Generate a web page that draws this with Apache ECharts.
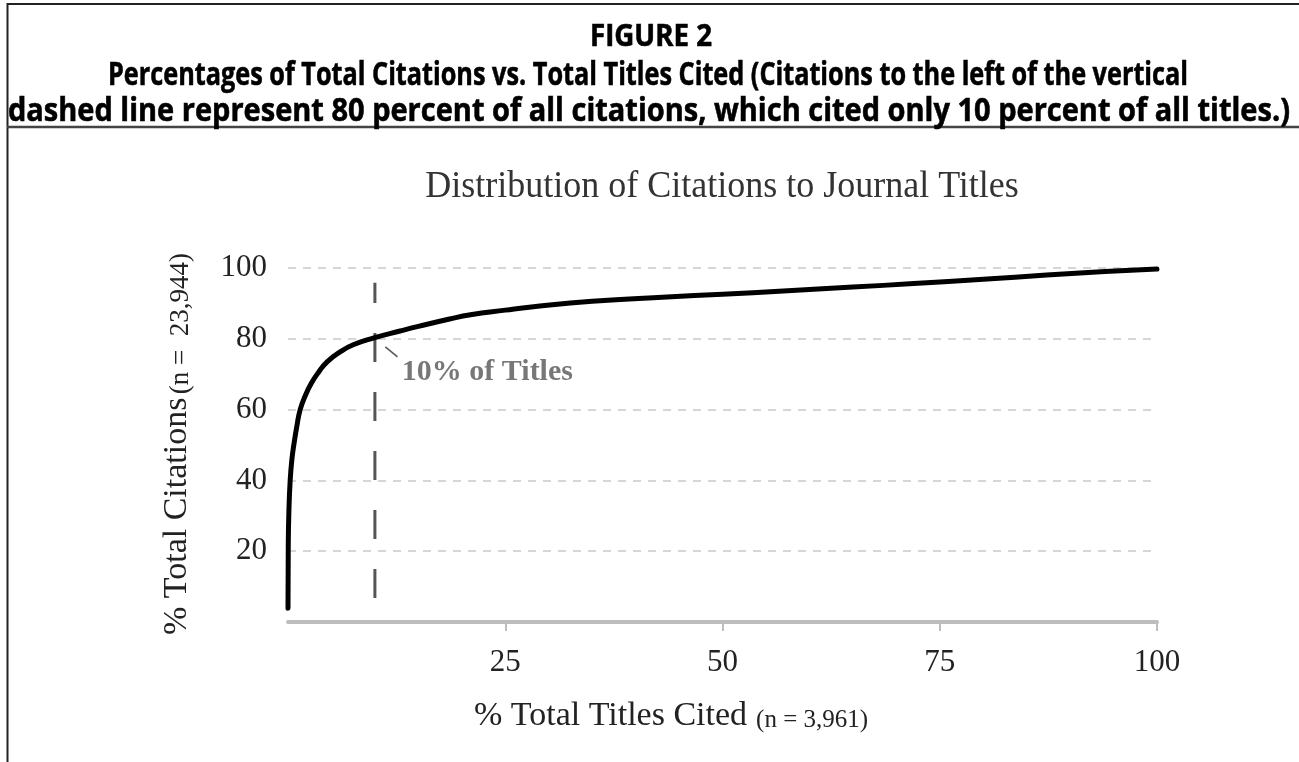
<!DOCTYPE html>
<html>
<head>
<meta charset="utf-8">
<script src="https://cdn.jsdelivr.net/npm/echarts@6/dist/echarts.min.js"></script>
<style>
html,body{margin:0;padding:0;background:#fff;}
#chart{width:1299px;height:762px;}
</style>
</head>
<body>
<div id="chart"></div>
<script>
// ---- data ----
const titlesPct = [0, 0.03, 0.1, 0.25, 0.45, 0.7, 1.0, 1.4, 2.0, 2.7, 3.5, 4.5, 6.0, 7.5, 9.8, 12.9, 15, 18.6, 21, 25, 28, 35, 43.6, 50, 57, 65, 72, 80, 87.3, 94, 100];
const citationsPct = [3.9, 21, 31, 40, 46, 50.5, 55, 60, 64, 67.5, 70.5, 73.5, 76.3, 78.3, 80.2, 82.2, 83.5, 85.6, 86.8, 88.1, 89.0, 90.6, 91.8, 92.6, 93.5, 94.6, 95.6, 96.8, 98, 99, 99.7];
const cutoffLine = [[10, 6.8], [10, 95.8]];
const leaderLine = [[11.2, 77.7], [12.6, 74.9]];
const annotationPoint = [[13.1, 70.6]];
const annotationText = '10% of Titles';
const xTicks = [25, 50, 75, 100];
const yTicks = [20, 40, 60, 80, 100];
const headerLines = ['FIGURE 2',
  'Percentages of Total Citations vs. Total Titles Cited (Citations to the left of the vertical',
  'dashed line represent 80 percent of all citations, which cited only 10 percent of all titles.)'];
const chartTitle = 'Distribution of Citations to Journal Titles';
const xName = ['% Total Titles Cited', '(n = 3,961)'];
const yName = ['% Total Citations', '(n =  23,944)'];

const curve = titlesPct.map((x, i) => [x, citationsPct[i]]);

const serif = '"Liberation Serif", "Times New Roman", serif';
const headFont = '"Open Sans", "Noto Sans", sans-serif';

const ctx = document.createElement('canvas').getContext('2d');
function fitScale(text, font, target) {
  ctx.font = font;
  return target / ctx.measureText(text).width;
}
const headSpecs = [
  {font: 'bold 30px ' + headFont, w: 122, x: 651, y: 37},
  {font: 'bold 33px ' + headFont, w: 1080, x: 648, y: 76},
  {font: 'bold 33px ' + headFont, w: 1282, x: 649, y: 112}
];
const headerGraphics = headerLines.map((t, i) => ({
  type: 'text', x: headSpecs[i].x, y: headSpecs[i].y,
  scaleX: fitScale(t, headSpecs[i].font, headSpecs[i].w),
  style: {text: t, font: headSpecs[i].font, fill: '#000', stroke: '#000', lineWidth: 0.6,
    textAlign: 'center', textVerticalAlign: 'middle'}
}));

const chart = echarts.init(document.getElementById('chart'), null, {renderer: 'canvas'});
chart.setOption({
  animation: false,
  backgroundColor: '#fff',
  grid: {left: 288, right: 142, top: 268, bottom: 140, containLabel: false},
  xAxis: {
    type: 'value', min: 0, max: 100, interval: 25,
    axisLine: {show: true, lineStyle: {color: '#bdbdbd', width: 4}},
    axisTick: {show: true, customValues: xTicks, length: 9, lineStyle: {color: '#bdbdbd', width: 2}},
    axisLabel: {customValues: xTicks, margin: 25, color: '#222', fontFamily: serif, fontSize: 31},
    splitLine: {show: false}
  },
  yAxis: {
    type: 'value', min: 0, max: 100, interval: 20,
    axisLine: {show: false}, axisTick: {show: false},
    axisLabel: {customValues: yTicks, margin: 21, color: '#222', fontFamily: serif, fontSize: 31},
    splitLine: {show: true, lineStyle: {color: '#d6d6d6', width: 2, type: [8, 7]}}
  },
  series: [
    {
      type: 'line', data: cutoffLine, symbol: 'none', silent: true, z: 2,
      lineStyle: {color: '#555', width: 3, type: [29, 30]}
    },
    {
      type: 'line', data: curve, symbol: 'none', smooth: 0.5, silent: true, z: 3,
      lineStyle: {color: '#000', width: 5, cap: 'round', join: 'round'}
    },
    {
      type: 'line', data: leaderLine, symbol: 'none', silent: true, z: 2,
      lineStyle: {color: '#555', width: 1.5}
    },
    {
      type: 'scatter', data: annotationPoint, symbolSize: 0, silent: true,
      label: {show: true, position: 'right', distance: 0, formatter: annotationText,
        color: '#555', fontFamily: serif, fontWeight: 'bold', fontSize: 30}
    }
  ],
  graphic: [
    {type: 'line', shape: {x1: 7, y1: 4, x2: 1299, y2: 4}, style: {stroke: '#222', lineWidth: 2}},
    {type: 'line', shape: {x1: 7.5, y1: 3, x2: 7.5, y2: 762}, style: {stroke: '#222', lineWidth: 2}},
    {type: 'line', shape: {x1: 7, y1: 127, x2: 1299, y2: 127}, style: {stroke: '#444', lineWidth: 2.5}},
    ...headerGraphics,
    {type: 'text', x: 722, y: 187, scaleY: 1.08, style: {text: chartTitle, font: '36px ' + serif, fill: '#333', textAlign: 'center', textVerticalAlign: 'middle'}},
    {type: 'text', x: 474, y: 716, style: {
      text: '{a|' + xName[0] + '}{g|}{b|' + xName[1] + '}',
      textAlign: 'left', textVerticalAlign: 'middle', fill: '#222',
      rich: {a: {fontFamily: serif, fontSize: 34, fill: '#222', verticalAlign: 'bottom'},
             g: {width: 9, fontSize: 20},
             b: {fontFamily: serif, fontSize: 25, fill: '#222', verticalAlign: 'bottom'}}
    }},
    {type: 'text', x: 177, y: 444, rotation: Math.PI / 2, style: {
      text: '{a|' + yName[0] + '} {b|' + yName[1] + '}',
      textAlign: 'center', textVerticalAlign: 'middle', fill: '#222',
      rich: {a: {fontFamily: serif, fontSize: 34, fill: '#222', verticalAlign: 'bottom'},
             b: {fontFamily: serif, fontSize: 27, fill: '#222', verticalAlign: 'bottom'}}
    }}
  ]
});
</script>
</body>
</html>
